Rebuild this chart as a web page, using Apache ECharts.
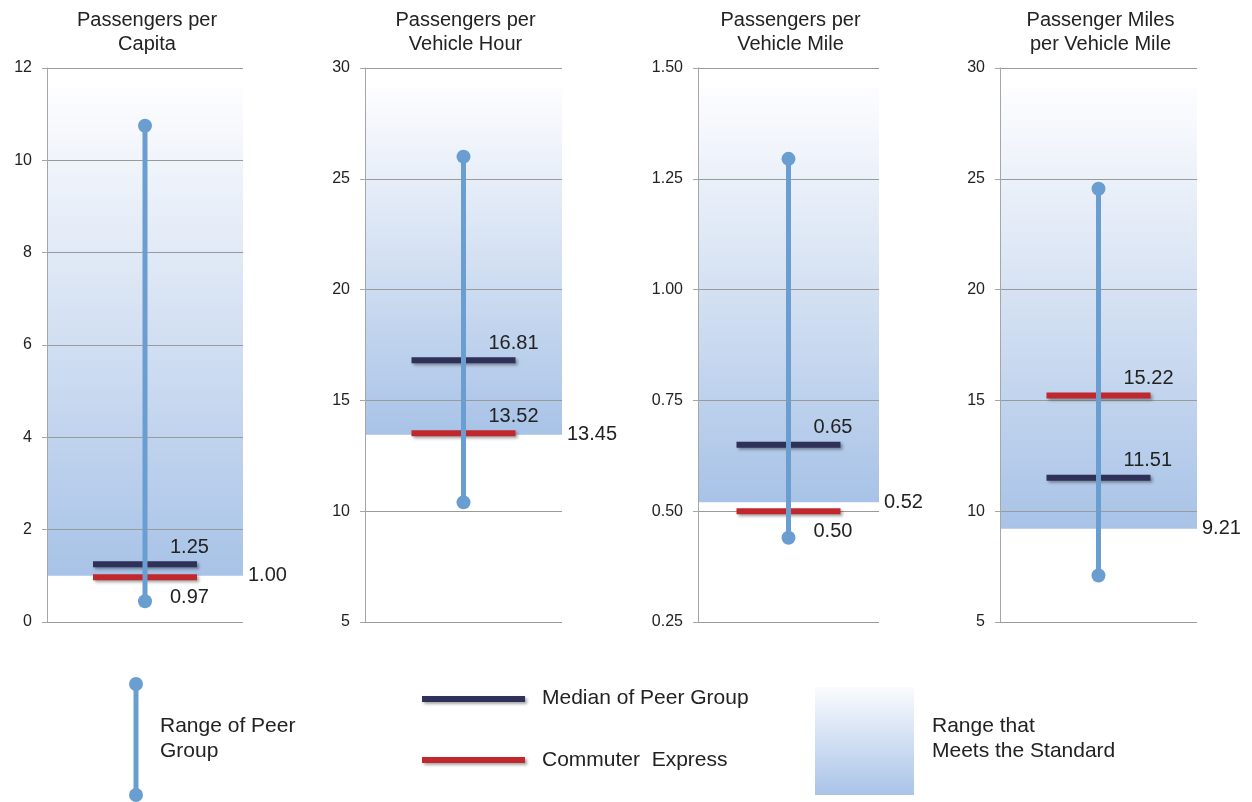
<!DOCTYPE html>
<html>
<head>
<meta charset="utf-8">
<script src="https://cdn.jsdelivr.net/npm/echarts@6/dist/echarts.min.js"></script>
<style>
html,body{margin:0;padding:0;background:#fff;}
#chart{width:1252px;height:802px;}
</style>
</head>
<body>
<div id="chart"></div>
<script>
// ---- data ----
const titles = ['Passengers per\nCapita', 'Passengers per\nVehicle Hour', 'Passengers per\nVehicle Mile', 'Passenger Miles\nper Vehicle Mile'];
const rangeHigh = [10.75, 26.0, 1.295, 24.55];
const rangeLow = [0.45, 10.4, 0.44, 7.1];
const median = [1.25, 16.81, 0.65, 11.51];
const commuter = [0.97, 13.52, 0.50, 15.22];
const standard = [1.00, 13.45, 0.52, 9.21];
const axisMin = [0, 5, 0.25, 5];
const axisMax = [12, 30, 1.50, 30];
const axisStep = [2, 5, 0.25, 5];
const tickDecimals = [0, 0, 2, 0];
const legendLabels = ['Range of Peer\nGroup', 'Median of Peer Group', 'Commuter  Express', 'Range that\nMeets the Standard'];

// ---- layout / style ----
const FONT = 'Liberation Sans, Arial, sans-serif';
const gridLeft = [47, 365, 698, 1000];
const gridWidth = [196, 197, 181, 197];
const gridTop = 68, gridHeight = 554;
const commuterBelow = [true, false, true, false];
const C_RANGE = '#6a9ed0', C_MED = '#2f3158', C_COM = '#c0282d', C_TXT = '#222';
const shadeGradient = () => new echarts.graphic.LinearGradient(0, 0, 0, 1, [
  {offset: 0, color: '#fdfdff'},
  {offset: 0.5, color: '#d3e0f2'},
  {offset: 1, color: '#a8c3e7'}
]);

const grid = [], xAxis = [], yAxis = [], series = [], title = [];
titles.forEach((t, i) => {
  grid.push({left: gridLeft[i], top: gridTop, width: gridWidth[i], height: gridHeight});
  xAxis.push({gridIndex: i, type: 'value', min: 0, max: 1, show: false});
  yAxis.push({
    gridIndex: i, type: 'value', min: axisMin[i], max: axisMax[i], interval: axisStep[i], z: 2,
    axisLine: {show: true, lineStyle: {color: '#a6a6a6', width: 1}},
    axisTick: {show: true, length: 5, lineStyle: {color: '#a6a6a6'}},
    splitLine: {show: true, lineStyle: {color: '#9a9a9a', width: 1}},
    axisLabel: {color: C_TXT, fontSize: 16, fontFamily: FONT, margin: 15,
      formatter: v => v.toFixed(tickDecimals[i])}
  });
  title.push({
    text: t, left: gridLeft[i] + gridWidth[i] / 2 - 3, top: 3, textAlign: 'center',
    textStyle: {fontSize: 20, fontWeight: 'normal', color: C_TXT, fontFamily: FONT, lineHeight: 24}
  });
  // standard shading + label
  series.push({
    type: 'line', xAxisIndex: i, yAxisIndex: i, z: 0, silent: true,
    data: [[0.5, standard[i]]], showSymbol: false, symbol: 'none', lineStyle: {width: 0},
    markArea: {silent: true, z: 0, itemStyle: {color: shadeGradient(), opacity: 1},
      data: [[{yAxis: standard[i]}, {yAxis: axisMax[i] - (axisMax[i] - axisMin[i]) * 0.035}]]},
    markLine: {silent: true, symbol: 'none', lineStyle: {width: 0, color: 'rgba(0,0,0,0)'},
      label: {show: true, position: 'end', distance: 5, color: C_TXT, fontSize: 20, fontFamily: FONT,
        formatter: p => Number(p.value).toFixed(2)},
      data: [{yAxis: standard[i]}]}
  });
  const barLabel = (below) => ({
    show: true, position: [77, below ? 23 : -14], align: 'left', verticalAlign: 'middle',
    color: C_TXT, fontSize: 20, fontFamily: FONT,
    formatter: p => p.value[1].toFixed(2)
  });
  const shadow = {shadowBlur: 3, shadowColor: 'rgba(0,0,0,0.35)', shadowOffsetX: 2, shadowOffsetY: 2, opacity: 1};
  series.push({
    type: 'scatter', xAxisIndex: i, yAxisIndex: i, z: 3, silent: true,
    symbol: 'rect', symbolSize: [104, 6],
    itemStyle: Object.assign({color: C_MED}, shadow),
    label: barLabel(false),
    data: [[0.5, median[i]]]
  });
  series.push({
    type: 'scatter', xAxisIndex: i, yAxisIndex: i, z: 3, silent: true,
    symbol: 'rect', symbolSize: [104, 6],
    itemStyle: Object.assign({color: C_COM}, shadow),
    label: barLabel(commuterBelow[i]),
    data: [[0.5, commuter[i]]]
  });
  series.push({
    type: 'line', xAxisIndex: i, yAxisIndex: i, z: 4, silent: true,
    symbol: 'circle', symbolSize: 14, showAllSymbol: true,
    lineStyle: {color: C_RANGE, width: 5}, itemStyle: {color: C_RANGE},
    data: [[0.5, rangeHigh[i]], [0.5, rangeLow[i]]]
  });
});

// ---- legend (drawn as graphics) ----
const legendText = (x, y, txt) => ({type: 'text', left: x, top: y,
  style: {text: txt, fill: C_TXT, fontSize: 21, fontFamily: FONT, lineHeight: 25}});
const graphic = [
  {type: 'line', shape: {x1: 136, y1: 684, x2: 136, y2: 795}, style: {stroke: C_RANGE, lineWidth: 5}},
  {type: 'circle', shape: {cx: 136, cy: 684, r: 7}, style: {fill: C_RANGE}},
  {type: 'circle', shape: {cx: 136, cy: 795, r: 7}, style: {fill: C_RANGE}},
  legendText(160, 714, legendLabels[0]),
  {type: 'rect', shape: {x: 422, y: 696, width: 103, height: 6},
    style: {fill: C_MED, shadowBlur: 3, shadowColor: 'rgba(0,0,0,0.35)', shadowOffsetX: 2, shadowOffsetY: 2}},
  legendText(542, 686, legendLabels[1]),
  {type: 'rect', shape: {x: 422, y: 757, width: 103, height: 6},
    style: {fill: C_COM, shadowBlur: 3, shadowColor: 'rgba(0,0,0,0.35)', shadowOffsetX: 2, shadowOffsetY: 2}},
  legendText(542, 748, legendLabels[2]),
  {type: 'rect', shape: {x: 815, y: 687, width: 99, height: 108},
    style: {fill: new echarts.graphic.LinearGradient(0, 0, 0, 1, [
      {offset: 0, color: '#fafbfe'}, {offset: 1, color: '#a9c4e8'}])}},
  legendText(932, 714, legendLabels[3])
];

const chart = echarts.init(document.getElementById('chart'), null, {renderer: 'canvas'});
chart.setOption({
  animation: false, backgroundColor: '#fff',
  textStyle: {fontFamily: FONT},
  title, grid, xAxis, yAxis, series, graphic
});
</script>
</body>
</html>
